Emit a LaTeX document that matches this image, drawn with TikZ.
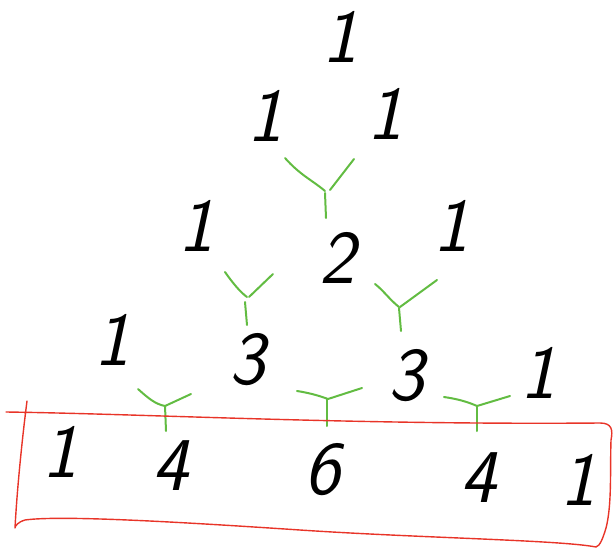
\documentclass[tikz,border=0pt]{standalone}
\usepackage{fontspec}
\definecolor{ygreen}{RGB}{98,188,66}
\definecolor{boxred}{RGB}{232,52,40}
\tikzset{
  num/.style={font=\fontsize{76}{76}\selectfont\sffamily\slshape, text=black, inner sep=0pt, anchor=center},
  ymark/.style={draw=ygreen, line width=2pt, line cap=round, line join=round},
  redbox/.style={draw=boxred, line width=1.4pt, line cap=round, line join=round}
}
\begin{document}
\begin{tikzpicture}[x=1pt,y=-1pt]
\useasboundingbox (0,0) rectangle (613,557);
% row 0
\node[num] (r0a) at (340,37) {1};
% row 1
\node[num] (r1a) at (265,116) {1};
\node[num] (r1b) at (385,114) {1};
% row 2
\node[num] (r2a) at (196,226) {1};
\node[num] (r2b) at (337,258) {2};
\node[num] (r2c) at (451,226) {1};
% row 3
\node[num] (r3a) at (112,340) {1};
\node[num] (r3b) at (247,360) {3};
\node[num] (r3c) at (406,376) {3};
\node[num] (r3d) at (538,373) {1};
% row 4
\node[num] (r4a) at (60,452) {1};
\node[num] (r4b) at (170,466) {4};
\node[num] (r4c) at (322,470) {6};
\node[num] (r4d) at (478,478) {4};
\node[num] (r4e) at (578,480) {1};
% green Y marks
\draw[ymark] (285,158) .. controls (300,175) and (312,180) .. (325,191);
\draw[ymark] (354,159) -- (330,190);
\draw[ymark] (325,193) -- (326,218);
\draw[ymark] (225,272) .. controls (232,282) and (240,292) .. (247,297);
\draw[ymark] (273,274) -- (249,297);
\draw[ymark] (245,302) -- (247,325);
\draw[ymark] (375,284) .. controls (383,290) and (390,300) .. (399,307);
\draw[ymark] (437,280) -- (400,307);
\draw[ymark] (399,308) -- (401,331);
\draw[ymark] (138,389) .. controls (148,398) and (155,404) .. (165,406);
\draw[ymark] (191,394) -- (165,406);
\draw[ymark] (165,406) -- (166,431);
\draw[ymark] (297,391) .. controls (310,393) and (320,396) .. (328,399);
\draw[ymark] (362,388) -- (328,399);
\draw[ymark] (327,399) -- (327,426);
\draw[ymark] (444,397) .. controls (458,399) and (468,402) .. (477,406);
\draw[ymark] (510,396) -- (477,406);
\draw[ymark] (477,406) -- (477,431);
% red box
\draw[redbox] (6,412) .. controls (150,414) and (350,425) .. (600,423)
  .. controls (612,423) and (613,430) .. (611,440)
  .. controls (610,470) and (612,505) .. (606,528)
  .. controls (603,538) and (600,546) .. (596,547)
  .. controls (560,540) and (420,538) .. (300,530)
  .. controls (180,522) and (60,515) .. (25,520)
  .. controls (18,522) and (15,526) .. (15,528)
  .. controls (17,490) and (22,440) .. (27,401);
\end{tikzpicture}
\end{document}
